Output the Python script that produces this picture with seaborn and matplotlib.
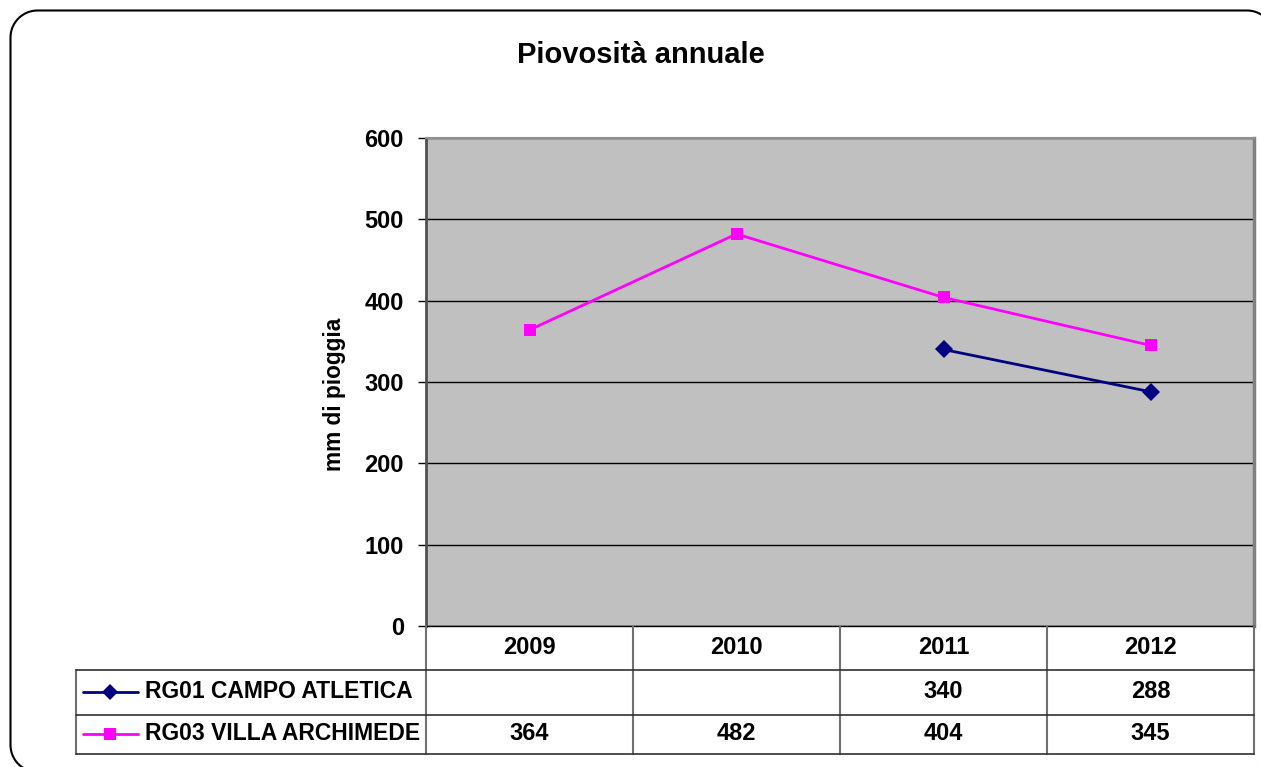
import numpy as np
import pandas as pd
import matplotlib
matplotlib.use("Agg")
import matplotlib.pyplot as plt
import seaborn as sns
from matplotlib.lines import Line2D
from matplotlib.patches import Polygon
from matplotlib.transforms import blended_transform_factory

years = ["2009", "2010", "2011", "2012"]
series_names = ["RG01 CAMPO ATLETICA", "RG03 VILLA ARCHIMEDE"]
rg01 = [np.nan, np.nan, 340, 288]
rg03 = [364, 482, 404, 345]
colors = ["#000080", "#FF00FF"]
marker_styles = ["D", "s"]
yticks = [0, 100, 200, 300, 400, 500, 600]

W, H = 1261, 767


def fx(px):
    return px / W


def fy(py):
    return 1 - py / H


sns.set_theme(style="white")
plt.rcParams["font.family"] = ["Liberation Sans", "DejaVu Sans"]
plt.rcParams["font.weight"] = "bold"
plt.rcParams["text.color"] = "black"
plt.rcParams["axes.labelcolor"] = "black"
plt.rcParams["ytick.color"] = "black"

rows = []
for name, vals in zip(series_names, [rg01, rg03]):
    for i, v in enumerate(vals):
        rows.append({"pos": i, "year": years[i], "serie": name, "mm": v})
df = pd.DataFrame(rows)

fig = plt.figure(figsize=(W / 100, H / 100), dpi=100)
fig.patch.set_facecolor("white")
ax = fig.add_axes([fx(426), fy(626), fx(1254) - fx(426), fy(138) - fy(626)])
ax.set_facecolor("#C0C0C0")

sns.lineplot(
    data=df.dropna(), x="pos", y="mm", hue="serie", style="serie",
    palette=dict(zip(series_names, colors)),
    markers=dict(zip(series_names, marker_styles)),
    dashes=False, linewidth=2, markersize=9, markeredgewidth=0,
    legend=False, ax=ax,
)

ax.set_xlim(-0.5, len(years) - 0.5)
ax.set_ylim(0, 600)
ax.set_yticks(yticks)
ax.set_yticklabels([str(t) for t in yticks], fontsize=17, fontweight="bold")
ax.set_xticks([])
ax.set_xlabel("")
ax.set_ylabel("mm di pioggia", fontsize=16.3, fontweight="bold")
ax.yaxis.set_label_coords(-0.097, 0.475)
ax.tick_params(axis="y", left=True, length=6, width=1, color="black", pad=10)
ax.yaxis.grid(True, color="black", linewidth=1)
ax.set_axisbelow(True)
for side, col, lw in [("left", "#505050", 2), ("right", "#808080", 2.5),
                      ("top", "#909090", 1.5), ("bottom", "black", 1)]:
    ax.spines[side].set_visible(True)
    ax.spines[side].set_color(col)
    ax.spines[side].set_linewidth(lw)

fig.text(fx(641), fy(55), "Piovosità annuale", ha="center", va="center",
         fontsize=21, fontweight="bold")

# data table below the plot
tr = blended_transform_factory(ax.transData, fig.transFigure)
row_edges = [626, 670, 715, 754]
x_edges = [i - 0.5 for i in range(len(years) + 1)]
left_x = fx(76)

for xe in x_edges:
    fig.add_artist(Line2D([xe, xe], [fy(626), fy(754)], transform=tr,
                          color="#707070", lw=1.5))
fig.add_artist(Line2D([left_x, left_x], [fy(670), fy(754)],
                      transform=fig.transFigure, color="#707070", lw=1.5))
for ye in row_edges[1:]:
    fig.add_artist(Line2D([left_x, fx(1254)], [fy(ye), fy(ye)],
                          transform=fig.transFigure, color="#303030", lw=1.2))

for i, yr in enumerate(years):
    fig.text(i, fy(648), yr, transform=tr, ha="center", va="center",
             fontsize=17, fontweight="bold")

row_centers = [692, 734]
for r, (name, vals, col, mk) in enumerate(zip(series_names, [rg01, rg03],
                                              colors, marker_styles)):
    yc = fy(row_centers[r])
    fig.add_artist(Line2D([fx(83), fx(138)], [yc, yc], transform=fig.transFigure,
                          color=col, lw=2))
    fig.add_artist(Line2D([fx(110.5)], [yc], transform=fig.transFigure,
                          color=col, marker=mk, markersize=9 if mk == "s" else 8,
                          markeredgewidth=0, linestyle="none"))
    fig.text(fx(145), yc, name, ha="left", va="center", fontsize=16.5,
             fontweight="bold")
    for i, v in enumerate(vals):
        if not np.isnan(v):
            fig.text(i, yc, f"{v:.0f}", transform=tr, ha="center", va="center",
                     fontsize=17, fontweight="bold")

# rounded chart border (pixel geometry)
bx0, bx1, by0, by1, rad = 10.5, 1274, 10.5, 772, 27
t = np.linspace(0, np.pi / 2, 20)
pts = []
for cx, cy, a0 in [(bx0 + rad, by0 + rad, np.pi), (bx1 - rad, by0 + rad, 1.5 * np.pi),
                   (bx1 - rad, by1 - rad, 0), (bx0 + rad, by1 - rad, 0.5 * np.pi)]:
    ang = a0 + t
    for a in ang:
        pts.append((fx(cx + rad * np.cos(a)), fy(cy + rad * np.sin(a))))
fig.add_artist(Polygon(pts, closed=True, fill=False, edgecolor="black",
                       linewidth=1.5, joinstyle="round",
                       transform=fig.transFigure))

fig.savefig("out.png", dpi=100)
